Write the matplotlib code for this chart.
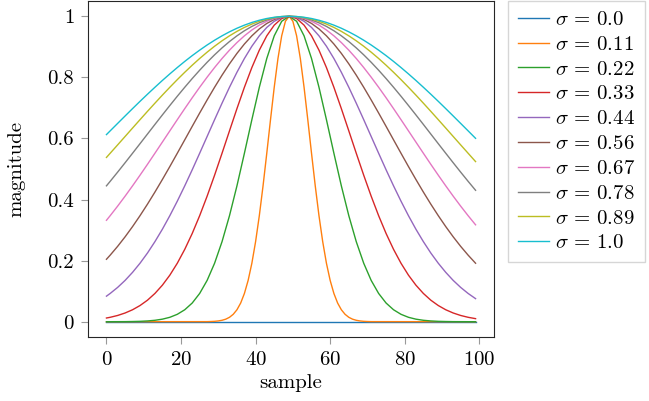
import matplotlib
matplotlib.use("Agg")
import matplotlib.pyplot as plt

plt.rcParams['font.family'] = 'serif'
plt.rcParams['font.serif'] = ['cmr10', 'DejaVu Serif']
plt.rcParams['mathtext.fontset'] = 'cm'
plt.rcParams['axes.formatter.use_mathtext'] = True
plt.rcParams['font.size'] = 15

# sample positions for the wide windows
samples = [0] + list(range(1, 100, 2))
# sample positions for the narrow window (sigma = 0.11)
samples_narrow = [0] + list(range(27, 72)) + [99]

sigma_labels = ["0.0", "0.11", "0.22", "0.33", "0.44", "0.56", "0.67", "0.78", "0.89", "1.0"]

s00 = [0.0] * 51

s011 = [0.0, 0.0003, 0.0007, 0.0013, 0.0026, 0.0047, 0.0084, 0.0145, 0.0243, 0.0392, 0.0612, 0.0926,
        0.1353, 0.1915, 0.2622, 0.3472, 0.4449, 0.5516, 0.6615, 0.7676, 0.8618, 0.9360, 0.9836,
        1.0,
        0.9836, 0.9360, 0.8618, 0.7676, 0.6615, 0.5516, 0.4449, 0.3472, 0.2622, 0.1915, 0.1353,
        0.0926, 0.0612, 0.0392, 0.0243, 0.0145, 0.0084, 0.0047, 0.0026, 0.0013, 0.0007, 0.0003, 0.0]

s022 = [0.0000, 0.0001, 0.0002, 0.0003, 0.0007, 0.0013, 0.0026, 0.0047, 0.0084, 0.0145, 0.0243, 0.0392,
        0.0612, 0.0926, 0.1353, 0.1915, 0.2622, 0.3472, 0.4449, 0.5516, 0.6615, 0.7676, 0.8618, 0.9360, 0.9836,
        1.0,
        0.9836, 0.9360, 0.8618, 0.7676, 0.6615, 0.5516, 0.4449, 0.3472, 0.2622, 0.1915, 0.1353, 0.0926,
        0.0612, 0.0392, 0.0243, 0.0145, 0.0084, 0.0047, 0.0026, 0.0013, 0.0007, 0.0003, 0.0002, 0.0001, 0.0000]

s033 = [0.0122, 0.0145, 0.0205, 0.0286, 0.0392, 0.0530, 0.0705, 0.0926, 0.1197, 0.1525, 0.1915, 0.2370,
        0.2889, 0.3472, 0.4111, 0.4797, 0.5516, 0.6249, 0.6977, 0.7676, 0.8322, 0.8891, 0.9360, 0.9710, 0.9927,
        1.0,
        0.9927, 0.9710, 0.9360, 0.8891, 0.8322, 0.7676, 0.6977, 0.6249, 0.5516, 0.4797, 0.4111, 0.3472,
        0.2889, 0.2370, 0.1915, 0.1525, 0.1197, 0.0926, 0.0705, 0.0530, 0.0392, 0.0286, 0.0205, 0.0145, 0.0101]

s044 = [0.0837, 0.0926, 0.1124, 0.1353, 0.1617, 0.1915, 0.2249, 0.2622, 0.3029, 0.3472, 0.3947, 0.4449,
        0.4974, 0.5516, 0.6065, 0.6615, 0.7155, 0.7676, 0.8167, 0.8618, 0.9019, 0.9360, 0.9635, 0.9836, 0.9959,
        1.0,
        0.9959, 0.9836, 0.9635, 0.9360, 0.9019, 0.8618, 0.8167, 0.7676, 0.7155, 0.6615, 0.6065, 0.5516,
        0.4974, 0.4449, 0.3947, 0.3472, 0.3029, 0.2622, 0.2249, 0.1915, 0.1617, 0.1353, 0.1124, 0.0926, 0.0756]

s056 = [0.2045, 0.2180, 0.2468, 0.2780, 0.3115, 0.3472, 0.3849, 0.4245, 0.4657, 0.5081, 0.5516, 0.5955,
        0.6396, 0.6833, 0.7261, 0.7676, 0.8072, 0.8443, 0.8785, 0.9092, 0.9360, 0.9586, 0.9765, 0.9895, 0.9974,
        1.0,
        0.9974, 0.9895, 0.9765, 0.9586, 0.9360, 0.9092, 0.8785, 0.8443, 0.8072, 0.7676, 0.7261, 0.6833,
        0.6396, 0.5955, 0.5516, 0.5081, 0.4657, 0.4245, 0.3849, 0.3472, 0.3115, 0.2780, 0.2468, 0.2180, 0.1915]

s067 = [0.3321, 0.3472, 0.3785, 0.4111, 0.4449, 0.4797, 0.5153, 0.5516, 0.5882, 0.6249, 0.6615, 0.6977,
        0.7332, 0.7676, 0.8007, 0.8322, 0.8618, 0.8891, 0.9139, 0.9360, 0.9551, 0.9710, 0.9836, 0.9927, 0.9982,
        1.0,
        0.9982, 0.9927, 0.9836, 0.9710, 0.9551, 0.9360, 0.9139, 0.8891, 0.8618, 0.8322, 0.8007, 0.7676,
        0.7332, 0.6977, 0.6615, 0.6249, 0.5882, 0.5516, 0.5153, 0.4797, 0.4449, 0.4111, 0.3785, 0.3472, 0.3173]

s078 = [0.4449, 0.4597, 0.4898, 0.5205, 0.5516, 0.5829, 0.6144, 0.6459, 0.6771, 0.7079, 0.7382, 0.7676,
        0.7961, 0.8234, 0.8494, 0.8738, 0.8965, 0.9173, 0.9360, 0.9526, 0.9668, 0.9786, 0.9879, 0.9946, 0.9987,
        1.0,
        0.9987, 0.9946, 0.9879, 0.9786, 0.9668, 0.9526, 0.9360, 0.9173, 0.8965, 0.8738, 0.8494, 0.8234,
        0.7961, 0.7676, 0.7382, 0.7079, 0.6771, 0.6459, 0.6144, 0.5829, 0.5516, 0.5205, 0.4898, 0.4597, 0.4303]

s089 = [0.5379, 0.5516, 0.5790, 0.6065, 0.6341, 0.6615, 0.6887, 0.7155, 0.7419, 0.7676, 0.7926, 0.8167,
        0.8398, 0.8618, 0.8825, 0.9019, 0.9197, 0.9360, 0.9506, 0.9635, 0.9745, 0.9836, 0.9907, 0.9959, 0.9990,
        1.0,
        0.9990, 0.9959, 0.9907, 0.9836, 0.9745, 0.9635, 0.9506, 0.9360, 0.9197, 0.9019, 0.8825, 0.8618,
        0.8398, 0.8167, 0.7926, 0.7676, 0.7419, 0.7155, 0.6887, 0.6615, 0.6341, 0.6065, 0.5790, 0.5516, 0.5243]

s100 = [0.6127, 0.6249, 0.6493, 0.6736, 0.6977, 0.7215, 0.7448, 0.7676, 0.7899, 0.8114, 0.8322, 0.8522,
        0.8712, 0.8891, 0.9060, 0.9216, 0.9360, 0.9491, 0.9608, 0.9710, 0.9798, 0.9870, 0.9927, 0.9967, 0.9992,
        1.0,
        0.9992, 0.9967, 0.9927, 0.9870, 0.9798, 0.9710, 0.9608, 0.9491, 0.9360, 0.9216, 0.9060, 0.8891,
        0.8712, 0.8522, 0.8322, 0.8114, 0.7899, 0.7676, 0.7448, 0.7215, 0.6977, 0.6736, 0.6493, 0.6249, 0.6004]

series = [s00, s011, s022, s033, s044, s056, s067, s078, s089, s100]
xs = [samples, samples_narrow] + [samples] * 8

fig = plt.figure(figsize=(6.49, 4.01), dpi=100)
ax = fig.add_axes([0.1356, 0.1596, 0.7612 - 0.1356, 0.9975 - 0.1596])

for lab, x, ys in zip(sigma_labels, xs, series):
    ax.plot(x, ys, lw=1.0, label=r'$\sigma\,=\,%s$' % lab)

ax.set_xlabel('sample', labelpad=4)
ax.set_ylabel('magnitude', labelpad=16)
ax.set_xticks([0, 20, 40, 60, 80, 100])
ax.set_yticks([0, 0.2, 0.4, 0.6, 0.8, 1.0])
ax.set_yticklabels(['0', '0.2', '0.4', '0.6', '0.8', '1'])
ax.set_xlim(-4.95, 103.95)
ax.set_ylim(-0.05, 1.05)
ax.tick_params(color='0.6', length=5, width=0.8, pad=5)
for sp in ax.spines.values():
    sp.set_color('0.15')

leg = ax.legend(loc='upper left', bbox_to_anchor=(1.035, 1.0), borderaxespad=0.0,
                handlelength=1.5, handletextpad=0.3, fontsize=15, labelspacing=0.3,
                fancybox=False, borderpad=0.45)
leg.get_frame().set_edgecolor('0.8')

fig.savefig('out.png', dpi=100)
